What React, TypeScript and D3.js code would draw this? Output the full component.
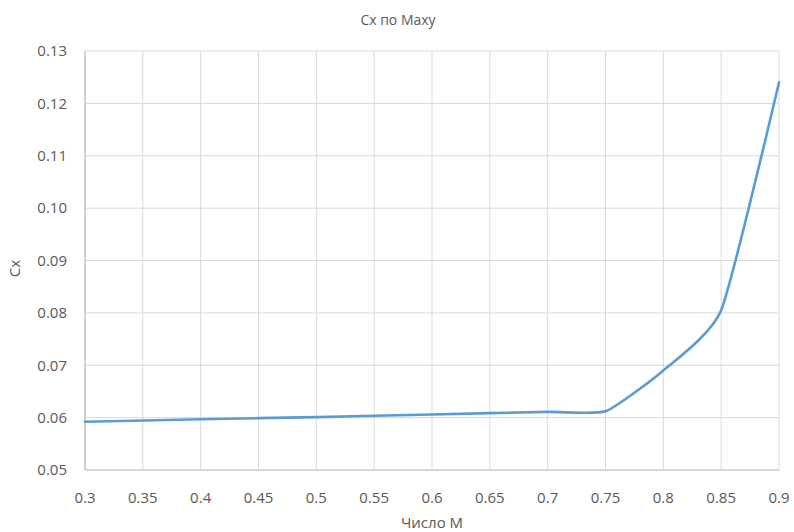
import React from "react";
import * as d3 from "d3";

// Drag coefficient Cx versus Mach number
const machNumbers = [0.3, 0.4, 0.5, 0.6, 0.7, 0.75, 0.8, 0.85, 0.9];
const cxValues = [0.0592, 0.0597, 0.0601, 0.0606, 0.0611, 0.0612, 0.0690, 0.0805, 0.1240];

const xTicks = [0.3, 0.35, 0.4, 0.45, 0.5, 0.55, 0.6, 0.65, 0.7, 0.75, 0.8, 0.85, 0.9];
const yTicks = [0.05, 0.06, 0.07, 0.08, 0.09, 0.1, 0.11, 0.12, 0.13];

const title = "Cx по Маху";
const xTitle = "Число М";
const yTitle = "Cx";

const W = 794;
const H = 532;
const margin = { left: 85, right: 15, top: 51, bottom: 62 };

const FONT = "'Open Sans', 'Noto Sans', sans-serif";
const TEXT = "#595959";

export default function App() {
  const x = d3.scaleLinear().domain([0.3, 0.9]).range([margin.left, W - margin.right]);
  const y = d3.scaleLinear().domain([0.05, 0.13]).range([H - margin.bottom, margin.top]);

  const pts = machNumbers.map((m, i) => [m, cxValues[i]] as [number, number]);
  const line = d3
    .line<[number, number]>()
    .x((d) => x(d[0]))
    .y((d) => y(d[1]))
    .curve(d3.curveCardinal.tension(0.5));

  const yFmt = (v: number) => v.toFixed(2);
  const xFmt = (v: number) => String(+v.toFixed(2));
  const plotMid = (x(0.3) + x(0.9)) / 2;

  return (
    <svg
      width={W}
      height={H}
      style={{ position: "absolute", left: 0, top: 0, background: "#fff" }}
      fontFamily={FONT}
    >
      {/* grid */}
      {yTicks.map((t) => (
        <line key={"gy" + t} x1={x(0.3)} x2={x(0.9)} y1={y(t)} y2={y(t)} stroke="#d9d9d9" strokeWidth={1} />
      ))}
      {xTicks.map((t) => (
        <line key={"gx" + t} x1={x(t)} x2={x(t)} y1={y(0.05)} y2={y(0.13)} stroke="#d9d9d9" strokeWidth={1} />
      ))}
      {/* axis lines */}
      <line x1={x(0.3)} x2={x(0.3)} y1={y(0.05)} y2={y(0.13)} stroke="#bfbfbf" strokeWidth={1.2} />
      <line x1={x(0.3)} x2={x(0.9)} y1={y(0.05)} y2={y(0.05)} stroke="#bfbfbf" strokeWidth={1.2} />

      {/* tick labels */}
      {yTicks.map((t) => (
        <text key={"ly" + t} x={67} y={y(t)} dy="0.35em" textAnchor="end" fontSize={15} fill={TEXT}>
          {yFmt(t)}
        </text>
      ))}
      {xTicks.map((t) => (
        <text key={"lx" + t} x={x(t)} y={503} textAnchor="middle" fontSize={15} fill={TEXT}>
          {xFmt(t)}
        </text>
      ))}

      {/* series */}
      <path d={line(pts) || ""} fill="none" stroke="#5b9bd5" strokeWidth={2.6} strokeLinejoin="round" strokeLinecap="round" />

      {/* titles */}
      <text x={398} y={25} textAnchor="middle" fontSize={14} fill={TEXT}>
        {title}
      </text>
      <text x={plotMid} y={528} textAnchor="middle" fontSize={15} fill={TEXT}>
        {xTitle}
      </text>
      <text
        transform={`translate(20, ${y(0.09) + 8}) rotate(-90)`}
        textAnchor="middle"
        fontSize={15}
        fill={TEXT}
      >
        {yTitle}
      </text>
    </svg>
  );
}
